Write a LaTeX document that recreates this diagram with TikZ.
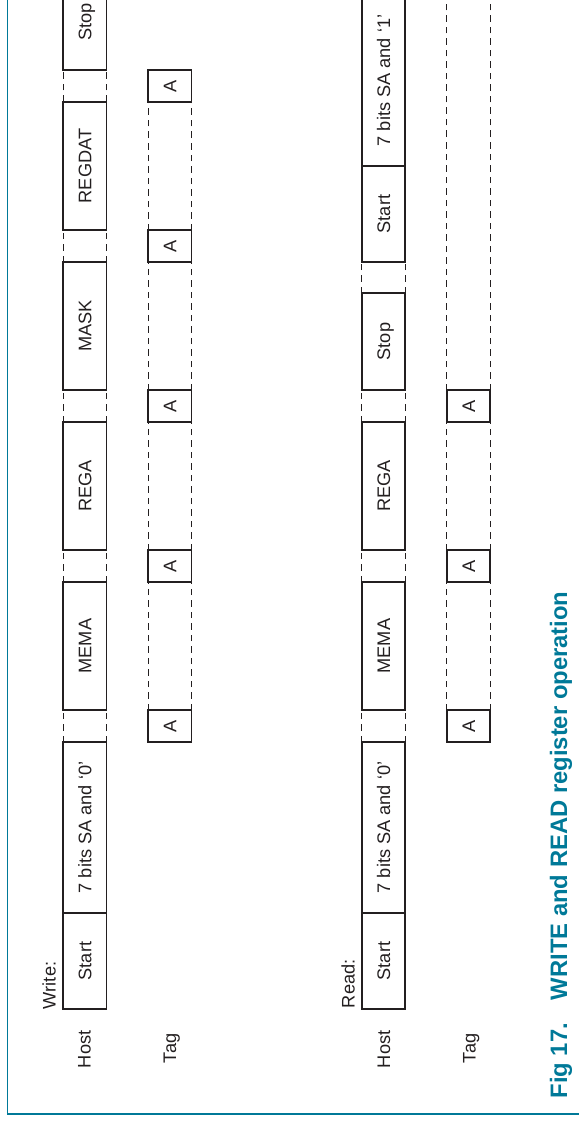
\documentclass[tikz,border=0pt]{standalone}
\usepackage{fontspec}
\setmainfont{Liberation Sans}
\definecolor{ink}{RGB}{35,31,32}
\definecolor{nxpteal}{RGB}{0,121,152}
\tikzset{
  seg/.style={draw=ink, line width=1.8pt, rotate=90, minimum height=43.5pt,
    inner sep=0pt, outer sep=0pt, text height=13pt, text depth=0pt,
    font=\fontsize{18.2}{20}\selectfont, text=ink},
  ackbox/.style={seg, minimum width=32pt},
  gapline/.style={draw=ink, line width=0.9pt, dash pattern=on 6.5pt off 5pt},
  lbl/.style={rotate=90, anchor=base west, inner sep=0pt, outer sep=0pt,
    font=\fontsize{18.2}{20}\selectfont, text=ink},
  captionstyle/.style={rotate=90, anchor=base west, inner sep=0pt, outer sep=0pt,
    font=\fontsize{23.8}{26}\selectfont\bfseries, text=nxpteal}
}
\begin{document}
\begin{tikzpicture}[x=1pt,y=1pt]
\useasboundingbox (0,0) rectangle (579,-1121);
\clip (0,0) rectangle (579,-1121);
\coordinate (frametop) at (7.3,0);
\coordinate (framecorner) at (7.3,-1114);
\coordinate (frameright) at (579,-1114);
\draw[nxpteal, line width=1.2pt] (frametop) -- (framecorner) -- (frameright);
\coordinate (pagetop) at (0,0);

% ---------- Write ----------
\node[lbl] (wlabel) at (55.5,-1009) {Write:};
\node[lbl] (whostlbl) at (90.5,-1068) {Host};
\node[lbl] (wtaglbl) at (176,-1063) {Tag};

\node[seg, minimum width=96pt] (wstart) at (84.75,-961) {Start};
\node[seg, minimum width=171pt] (wsa) at (84.75,-827.5) {7 bits SA and `0'};
\node[seg, minimum width=128pt] (wmema) at (84.75,-646) {MEMA};
\node[seg, minimum width=128pt] (wrega) at (84.75,-486) {REGA};
\node[seg, minimum width=128pt] (wmask) at (84.75,-326) {MASK};
\node[seg, minimum width=128pt] (wregdat) at (84.75,-166) {REGDAT};
\node[seg, minimum width=96pt] (wstop) at (84.75,-22) {Stop};

\foreach \lo/\hi in {wsa/wmema, wmema/wrega, wrega/wmask, wmask/wregdat, wregdat/wstop}{
  \draw[gapline] (\lo.north east) -- (\hi.north west);
  \draw[gapline] (\lo.south east) -- (\hi.south west);
}

\node[ackbox] (wa1) at (169.75,-726) {A};
\node[ackbox] (wa2) at (169.75,-566) {A};
\node[ackbox] (wa3) at (169.75,-406) {A};
\node[ackbox] (wa4) at (169.75,-246) {A};
\node[ackbox] (wa5) at (169.75,-86) {A};
\foreach \lo/\hi in {wa1/wa2, wa2/wa3, wa3/wa4, wa4/wa5}{
  \draw[gapline] (\lo.north east) -- (\hi.north west);
  \draw[gapline] (\lo.south east) -- (\hi.south west);
}

% ---------- Read ----------
\node[lbl] (rlabel) at (354.5,-1008) {Read:};
\node[lbl] (rhostlbl) at (390,-1068) {Host};
\node[lbl] (rtaglbl) at (475.5,-1063) {Tag};

\node[seg, minimum width=96pt] (rstart) at (383.5,-961) {Start};
\node[seg, minimum width=171pt] (rsa) at (383.5,-827.5) {7 bits SA and `0'};
\node[seg, minimum width=128pt] (rmema) at (383.5,-646) {MEMA};
\node[seg, minimum width=128pt] (rrega) at (383.5,-486) {REGA};
\node[seg, minimum width=97pt] (rstop) at (383.5,-341.5) {Stop};
\node[seg, minimum width=96pt] (rstartb) at (383.5,-214) {Start};
\node[seg, minimum width=171pt] (rsab) at (383.5,-80.5) {7 bits SA and `1'};

\foreach \lo/\hi in {rsa/rmema, rmema/rrega, rrega/rstop, rstop/rstartb}{
  \draw[gapline] (\lo.north east) -- (\hi.north west);
  \draw[gapline] (\lo.south east) -- (\hi.south west);
}

\node[ackbox] (ra1) at (468.5,-726) {A};
\node[ackbox] (ra2) at (468.5,-566) {A};
\node[ackbox] (ra3) at (468.5,-406) {A};
\foreach \lo/\hi in {ra1/ra2, ra2/ra3}{
  \draw[gapline] (\lo.north east) -- (\hi.north west);
  \draw[gapline] (\lo.south east) -- (\hi.south west);
}
\draw[gapline] (ra3.north east) -- (ra3.north east |- pagetop);
\draw[gapline] (ra3.south east) -- (ra3.south east |- pagetop);

% ---------- Caption ----------
\node[captionstyle] (caption) at (567,-1098.5) {Fig 17.\hspace{23pt}WRITE and READ register operation};
\end{tikzpicture}
\end{document}
